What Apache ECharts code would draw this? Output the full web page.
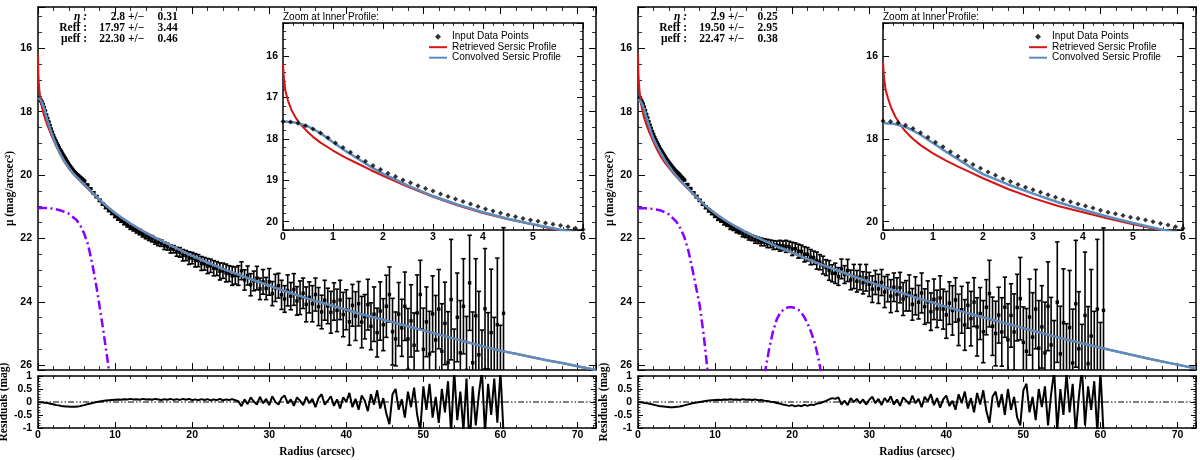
<!DOCTYPE html>
<html><head><meta charset="utf-8">
<script src="https://cdn.jsdelivr.net/npm/echarts@6/dist/echarts.min.js"></script>
<style>html,body{margin:0;padding:0;background:#fff}#c{width:1200px;height:460px}</style>
</head><body><div id="c"></div><script>
// ---------- data ----------
const radius = [0,0.15,0.3,0.45,0.6,0.75,0.9,1.05,1.2,1.35,1.5,1.65,1.8,1.95,2.1,2.25,2.4,2.55,2.7,2.85,3,3.15,3.3,3.45,3.6,3.75,3.9,4.05,4.2,4.35,4.5,4.65,4.8,4.95,5.1,5.25,5.4,5.55,5.7,5.85,6,
6.4,6.8,7.2,7.6,8,8.4,8.8,9.2,9.6,10,10.4,10.8,11.2,11.6,12,12.4,12.8,13.2,13.6,14,14.4,14.8,15.2,15.6,16,16.4,16.8,17.2,17.6,18,
18.4,18.8,19.2,19.6,20,20.4,20.8,21.2,21.6,22,22.4,22.8,23.2,23.6,24,24.4,24.8,25.2,25.6,26,26.4,26.8,27.2,27.6,28,28.4,28.8,29.2,29.6,30,
30.4,30.8,31.2,31.6,32,32.4,32.8,33.2,33.6,34,34.4,34.8,35.2,35.6,36,36.4,36.8,37.2,37.6,38,38.4,38.8,39.2,39.6,40,40.4,40.8,41.2,41.6,42,
42.4,42.8,43.2,43.6,44,44.4,44.8,45.2,45.6,46,46.4,46.8,47.2,47.6,48,48.4,48.8,49.2,49.6,50,50.4,50.8,51.2,51.6,52,52.4,52.8,53.2,53.6,54,
54.4,54.8,55.2,55.6,56,56.4,56.8,57.2,57.6,58,58.4,58.8,59.2,59.6,60,60.4];

const muLeft = [17.58,17.59,17.62,17.68,17.76,17.86,17.97,18.10,18.21,18.32,18.43,18.54,18.64,18.74,18.83,18.91,18.99,19.06,19.13,19.20,19.26,19.33,19.39,19.45,19.51,19.57,19.63,19.69,19.74,19.79,19.84,19.88,19.92,19.96,19.99,20.03,20.06,20.09,20.12,20.16,20.19,
20.31,20.43,20.56,20.68,20.80,20.91,21.02,21.11,21.20,21.29,
21.37,21.43,21.51,21.57,21.65,21.69,21.76,21.80,21.88,21.92,
21.98,22.01,22.09,22.12,22.15,22.23,22.26,22.33,22.34,22.42,
22.44,22.53,22.54,22.62,22.62,22.69,22.70,22.79,22.80,22.87,
22.86,22.94,22.95,23.04,23.02,23.09,23.11,23.18,23.17,23.17,
23.02,23.31,23.17,23.46,23.34,23.25,23.59,23.37,23.58,23.37,
23.74,23.56,23.49,23.78,23.91,23.64,23.82,23.61,23.97,23.87,
23.73,24.08,23.86,24.06,23.77,24.15,24.32,23.95,24.13,24.33,
23.99,24.27,23.94,24.40,24.25,24.63,24.11,24.45,24.06,24.64,
24.47,24.09,24.77,24.39,24.97,24.29,24.72,24.14,23.77,24.94,
25.17,24.39,24.82,24.14,25.17,24.60,25.37,24.35,23.77,25.50,
24.63,25.65,24.38,25.20,24.23,25.56,24.68,25.91,23.93,26.36,
24.49,25.61,24.14,26.16,23.40,25.92,24.44,25.67,26.59,24.22,
26.14,24.97,26.39,24.72,26.74,24.36];

const errLeft = [0.01,0.01,0.01,0.01,0.01,0.01,0.01,0.01,0.01,0.01,0.01,0.01,0.01,0.01,0.01,0.01,0.01,0.01,0.01,0.01,0.012,0.012,0.012,0.012,0.012,0.013,0.013,0.013,0.013,0.013,0.014,0.014,0.014,0.014,0.015,0.015,0.015,0.016,0.016,0.017,0.018,
0.02,0.025,0.03,0.03,0.035,0.035,0.04,0.045,0.045,0.05,
0.055,0.06,0.06,0.07,0.065,0.075,0.07,0.085,0.075,0.09,
0.085,0.1,0.09,0.11,0.1,0.12,0.105,0.13,0.115,0.14,
0.15,0.18,0.16,0.2,0.18,0.21,0.19,0.22,0.2,0.24,
0.21,0.24,0.22,0.27,0.24,0.28,0.25,0.3,0.27,0.31,
0.28,0.32,0.3,0.35,0.31,0.37,0.34,0.39,0.35,0.42,
0.38,0.43,0.39,0.46,0.42,0.49,0.43,0.5,0.45,0.53,
0.48,0.55,0.49,0.57,0.52,0.6,0.53,0.63,0.56,0.66,
0.59,0.67,0.62,0.7,0.63,0.74,0.66,0.77,0.7,0.81,
0.7,0.8,0.74,0.86,0.77,0.92,0.82,0.98,0.87,1.05,
0.85,1.0,0.9,1.08,0.96,1.14,1.02,1.2,1.08,1.3,
1.1,1.35,1.2,1.4,1.25,1.5,1.3,1.6,1.9,1.5,
1.4,1.65,1.5,1.7,1.5,1.6,1.8,2.0,1.7,1.9,
1.8,2.0,1.9,2.1,2.0,2.7];

const resLeft = [-0.01,-0.01,-0.01,-0.02,-0.02,-0.02,-0.03,-0.03,-0.04,-0.05,-0.06,-0.07,-0.08,-0.09,-0.1,-0.11,-0.12,-0.13,-0.13,-0.14,-0.15,-0.15,-0.16,-0.16,-0.17,-0.17,-0.17,-0.18,-0.18,-0.18,-0.18,-0.18,-0.18,-0.17,-0.17,-0.16,-0.16,-0.15,-0.14,-0.13,-0.12,
-0.09,-0.06,-0.03,0.0,0.02,0.04,0.06,0.07,0.08,0.09,
0.1,0.09,0.11,0.1,0.12,0.1,0.11,0.09,0.12,0.1,
0.11,0.09,0.12,0.1,0.08,0.11,0.09,0.12,0.08,0.11,
0.08,0.12,0.09,0.12,0.07,0.1,0.07,0.11,0.08,0.11,
0.06,0.1,0.07,0.12,0.06,0.1,0.08,0.11,0.07,0.03,
-0.16,0.1,-0.08,0.18,0.02,-0.1,0.2,-0.05,0.12,-0.12,
0.22,0.0,-0.1,0.15,0.25,-0.05,0.1,-0.15,0.18,0.05,
-0.12,0.2,-0.05,0.12,-0.2,0.15,0.3,-0.1,0.05,0.22,
-0.15,0.1,-0.25,0.18,0.0,0.35,-0.2,0.12,-0.3,0.25,
0.05,-0.35,0.3,-0.1,0.45,-0.25,0.15,-0.45,-0.85,0.3,
0.5,-0.3,0.1,-0.6,0.4,-0.2,0.55,-0.5,-1.1,0.6,
-0.3,0.7,-0.6,0.2,-0.8,0.5,-0.4,0.8,-1.2,1.2,
-0.7,0.4,-1.1,0.9,-1.9,0.6,-0.9,0.3,1.2,-1.2,
0.7,-0.5,0.9,-0.8,1.2,-1.2];

const muRight = [17.57,17.58,17.61,17.67,17.75,17.85,17.96,18.08,18.19,18.31,18.42,18.52,18.62,18.71,18.80,18.88,18.96,19.03,19.10,19.17,19.23,19.29,19.35,19.41,19.47,19.52,19.57,19.62,19.67,19.72,19.77,19.81,19.85,19.89,19.92,19.96,20.00,20.04,20.08,20.12,20.16,
20.30,20.43,20.56,20.68,20.80,20.91,21.02,21.12,21.20,21.29,
21.37,21.43,21.51,21.56,21.64,21.68,21.74,21.78,21.86,21.89,
21.95,21.98,22.04,22.06,22.11,22.12,22.16,22.17,22.21,22.21,
22.23,22.23,22.25,22.26,22.33,22.32,22.40,22.41,22.50,22.50,
22.59,22.61,22.70,22.75,22.84,22.92,23.01,23.10,23.10,23.20,
22.96,23.14,23.01,23.31,23.20,23.35,23.22,23.40,23.24,23.45,
23.60,23.39,23.59,23.39,23.69,23.57,23.82,23.54,23.77,23.55,
23.91,23.81,23.72,24.08,23.81,24.01,23.72,24.15,24.00,24.31,
23.92,24.22,23.88,24.23,24.41,24.04,24.27,23.94,24.57,24.25,
24.73,24.11,24.53,24.01,24.79,24.37,24.94,24.17,23.74,24.77,
25.00,24.42,24.95,24.17,25.20,24.43,24.95,24.18,23.90,25.28,
25.56,24.48,25.11,24.23,25.46,24.79,25.61,24.14,25.36,26.29,
24.01,25.64,24.66,26.29,24.81,25.93,24.06,25.48,26.61,24.43,
25.95,25.08,26.20,24.23,26.65,24.27];

const errRight = [0.01,0.01,0.01,0.01,0.01,0.01,0.01,0.01,0.01,0.01,0.01,0.01,0.01,0.01,0.01,0.01,0.01,0.01,0.01,0.01,0.012,0.012,0.012,0.012,0.012,0.013,0.013,0.013,0.013,0.013,0.014,0.014,0.014,0.014,0.015,0.015,0.015,0.016,0.016,0.017,0.018,
0.025,0.03,0.025,0.035,0.03,0.04,0.04,0.045,0.05,0.045,
0.06,0.055,0.065,0.06,0.075,0.07,0.08,0.075,0.09,0.085,
0.1,0.09,0.11,0.1,0.12,0.11,0.13,0.12,0.14,0.13,
0.17,0.15,0.19,0.17,0.21,0.18,0.22,0.2,0.24,0.21,
0.24,0.21,0.27,0.24,0.28,0.25,0.31,0.27,0.32,0.28,
0.31,0.28,0.35,0.31,0.38,0.34,0.4,0.35,0.42,0.38,
0.42,0.38,0.46,0.41,0.49,0.43,0.52,0.45,0.53,0.48,
0.52,0.48,0.57,0.5,0.6,0.53,0.63,0.56,0.66,0.59,
0.64,0.59,0.7,0.63,0.74,0.67,0.78,0.7,0.81,0.74,
0.8,0.72,0.86,0.77,0.92,0.82,0.98,0.87,1.05,0.92,
1.02,0.88,1.08,0.95,1.14,1.0,1.2,1.05,1.3,1.12,
1.35,1.2,1.4,1.25,1.5,1.3,1.6,1.4,1.5,1.7,
1.9,1.5,1.7,1.6,1.8,1.7,2.0,1.8,1.9,2.0,
1.8,2.1,1.9,2.2,2.0,2.6];

const resRight = [0,-0.01,-0.01,-0.02,-0.02,-0.03,-0.04,-0.04,-0.05,-0.06,-0.07,-0.08,-0.09,-0.1,-0.11,-0.12,-0.13,-0.14,-0.15,-0.15,-0.16,-0.17,-0.17,-0.18,-0.18,-0.19,-0.19,-0.19,-0.2,-0.2,-0.2,-0.2,-0.19,-0.19,-0.18,-0.18,-0.17,-0.16,-0.15,-0.14,-0.13,
-0.1,-0.07,-0.04,-0.02,0.0,0.02,0.04,0.06,0.07,0.08,
0.09,0.08,0.1,0.09,0.11,0.09,0.1,0.08,0.11,0.09,
0.1,0.08,0.1,0.07,0.08,0.05,0.04,0.01,0.0,-0.04,
-0.06,-0.1,-0.12,-0.15,-0.12,-0.17,-0.13,-0.16,-0.11,-0.15,
-0.1,-0.12,-0.06,-0.05,0.0,0.04,0.1,0.15,0.12,0.18,
-0.1,0.05,-0.12,0.15,0.0,0.12,-0.05,0.1,-0.1,0.08,
0.2,-0.05,0.12,-0.12,0.15,0.0,0.22,-0.1,0.1,-0.15,
0.18,0.05,-0.08,0.25,-0.05,0.12,-0.2,0.2,0.02,0.3,
-0.12,0.15,-0.22,0.1,0.25,-0.15,0.05,-0.3,0.3,-0.05,
0.4,-0.25,0.15,-0.4,0.35,-0.1,0.45,-0.35,-0.8,0.2,
0.4,-0.2,0.3,-0.5,0.5,-0.3,0.2,-0.6,-0.9,0.45,
0.7,-0.4,0.2,-0.7,0.5,-0.2,0.6,-0.9,0.3,1.2,
-1.1,0.5,-0.5,1.1,-0.4,0.7,-1.2,0.2,1.3,-0.9,
0.6,-0.3,0.8,-1.2,1.2,-1.2];

// model profiles
const curveR = [0,0.01,0.02,0.05,0.1,0.17,0.25,0.33,0.42,0.5,0.6,0.75,1,1.25,1.5,1.75,2,2.5,3,3.5,4,4.5,5,5.5,6,7,8,
9,10,11,12,13,14,15,16,17,18,19,20,22,24,26,28,30,32,34,36,38,40,42,44,46,48,50,52,54,56,58,60,62,64,66,68,70,72.4];
const blueLeft = [17.58,17.58,17.58,17.58,17.585,17.59,17.61,17.63,17.665,17.70,17.76,17.86,18.08,18.29,18.48,18.67,18.84,19.13,19.38,19.59,19.77,19.93,20.06,20.18,20.30,20.54,20.78,
21.00,21.20,21.37,21.53,21.68,21.82,21.95,22.07,22.19,22.31,22.43,22.55,22.76,22.96,23.14,23.32,23.49,23.66,23.82,23.97,24.11,24.25,24.39,24.52,24.64,24.77,24.90,25.03,25.16,25.29,25.42,25.54,25.64,25.74,25.84,25.93,26.03,26.15];
const redLeft = [16.18,16.40,16.55,16.85,17.08,17.30,17.48,17.62,17.74,17.84,17.95,18.09,18.28,18.45,18.60,18.75,18.89,19.16,19.40,19.61,19.79,19.94,20.07,20.20,20.32,20.56,20.79,
21.00,21.20,21.37,21.53,21.68,21.82,21.95,22.07,22.19,22.31,22.43,22.55,22.76,22.96,23.14,23.32,23.49,23.66,23.82,23.97,24.11,24.25,24.39,24.52,24.64,24.77,24.90,25.03,25.16,25.29,25.42,25.54,25.64,25.74,25.84,25.93,26.03,26.15];
const blueRight = [17.62,17.62,17.62,17.62,17.625,17.63,17.645,17.67,17.70,17.74,17.80,17.90,18.10,18.30,18.49,18.68,18.85,19.10,19.32,19.53,19.71,19.88,20.03,20.17,20.30,20.55,20.80,
21.02,21.21,21.38,21.53,21.67,21.80,21.92,22.03,22.14,22.25,22.35,22.45,22.65,22.84,23.02,23.20,23.37,23.54,23.70,23.86,24.01,24.16,24.30,24.44,24.57,24.70,24.83,24.96,25.09,25.21,25.33,25.45,25.56,25.67,25.78,25.88,25.98,26.10];
const redRight = [16.15,16.35,16.50,16.80,17.02,17.27,17.47,17.62,17.78,17.88,18.00,18.15,18.35,18.52,18.67,18.81,18.95,19.21,19.43,19.62,19.77,19.92,20.06,20.19,20.32,20.56,20.81,
21.02,21.21,21.38,21.53,21.67,21.80,21.92,22.03,22.14,22.25,22.35,22.45,22.65,22.84,23.02,23.20,23.37,23.54,23.70,23.86,24.01,24.16,24.30,24.44,24.57,24.70,24.83,24.96,25.09,25.21,25.33,25.45,25.56,25.67,25.78,25.88,25.98,26.10];

// point-source (PSF) components, dash-dotted
const psfR = [0,1,2,3,4,5,5.5,6,6.5,7,7.5,8,8.5,9,9.5];
const psfLeft = [21.04,21.04,21.06,21.12,21.22,21.42,21.6,21.85,22.2,22.75,23.4,24.15,24.95,25.8,26.7];
const psfRight = [21.05,21.05,21.07,21.12,21.24,21.48,21.68,21.95,22.35,22.9,23.5,24.1,25.0,26.1,27.0];
const bumpR = [16.4,16.8,17,17.5,18,18.5,19,19.5,20,20.5,21,21.5,22,22.5,23,23.5,23.8];
const bumpRight = [26.3,25.8,25.5,24.95,24.55,24.33,24.22,24.17,24.17,24.2,24.28,24.45,24.68,24.98,25.35,25.89,26.3];

const zeroR = [0, 72.4];
const zeroV = [0, 0];

const fitLeft = [['η :','2.8','0.31'],['Reff :','17.97','3.44'],['μeff :','22.30','0.46']];
const fitRight = [['η :','2.9','0.25'],['Reff :','19.50','2.95'],['μeff :','22.47','0.38']];
const legendNames = ['Input Data Points','Retrieved Sersic Profile','Convolved Sersic Profile'];
const insetTitle = 'Zoom at Inner Profile:';
const yName = 'μ (mag/arcsec²)', rName = 'Residuals (mag)', xName = 'Radius (arcsec)';

// ---------- styling ----------
const RED = '#d51414', BLUE = '#5b8dbd', PURPLE = '#8a00ff';
const SANS = 'Liberation Sans', SERIF = 'Liberation Serif';
const NAME = {fontFamily: SERIF, fontWeight: 'bold', fontSize: 11.5, color: '#000'};

const grids = [
  {left: 38, top: 7, width: 558, height: 363},
  {left: 38, top: 376, width: 558, height: 52},
  {left: 283, top: 23, width: 300, height: 207},
  {left: 638, top: 7, width: 558, height: 363},
  {left: 638, top: 376, width: 558, height: 52},
  {left: 883, top: 23, width: 300, height: 207}
].map(g => Object.assign({outerBoundsMode: 'none', containLabel: false}, g));

function axisCommon(gi, o) {
  return {
    type: 'value', gridIndex: gi, min: o.min, max: o.max,
    splitLine: {show: false}, minorSplitLine: {show: false},
    axisLine: {show: true, onZero: false, lineStyle: {color: '#000', width: 1.5}},
    axisTick: {show: true, inside: true, length: o.tl, lineStyle: {color: '#000', width: 1}},
    minorTick: {show: true, splitNumber: o.minor, length: o.ml, lineStyle: {color: '#000', width: 0.8}}
  };
}
function lab(o) {
  return o.label ? {show: true, margin: o.margin, color: '#000', fontFamily: SANS, fontWeight: 'bold', fontSize: 10.5,
    showMinLabel: o.showMin, showMaxLabel: o.showMax} : {show: false};
}
function xPair(gi, o) {
  const c = axisCommon(gi, o);
  if (o.interval) c.interval = o.interval;
  return [
    Object.assign({}, c, {position: 'bottom', axisLabel: lab(o), name: o.name || '', nameLocation: 'middle', nameGap: o.nameGap || 0, nameTextStyle: NAME}),
    Object.assign({}, c, {position: 'top', axisLabel: {show: false}})
  ];
}
function yPair(gi, o) {
  const c = axisCommon(gi, o);
  c.inverse = !!o.inverse;
  if (o.interval) c.interval = o.interval; else c.splitNumber = o.split;
  return [
    Object.assign({}, c, {position: 'left', axisLabel: lab(o), name: o.name || '', nameLocation: 'middle', nameGap: o.nameGap || 0, nameTextStyle: NAME}),
    Object.assign({}, c, {position: 'right', axisLabel: {show: false}})
  ];
}

const xAxis = [], yAxis = [];
for (let p = 0; p < 2; p++) {
  const g = p * 3;
  xAxis.push(...xPair(g, {min: 0, max: 72.4, interval: 10, tl: 7, minor: 5, ml: 4, label: false}));
  yAxis.push(...yPair(g, {min: 14.7, max: 26.15, split: 5, inverse: true, tl: 7, minor: 4, ml: 4, label: true, margin: 6, showMin: false, showMax: false, name: yName, nameGap: 21}));
  xAxis.push(...xPair(g + 1, {min: 0, max: 72.4, interval: 10, tl: 6, minor: 5, ml: 3, label: true, margin: 2, showMax: false, name: xName, nameGap: 18}));
  yAxis.push(...yPair(g + 1, {min: -1, max: 1, interval: 0.5, tl: 5, minor: 5, ml: 2.5, label: true, margin: 6, name: rName, nameGap: 24}));
  xAxis.push(...xPair(g + 2, {min: 0, max: 6, interval: 1, tl: 6, minor: 5, ml: 3, label: true, margin: 2}));
  yAxis.push(...yPair(g + 2, {min: 15.2, max: 20.2, split: p === 0 ? 5 : 3, inverse: true, tl: 6, minor: 5, ml: 3, label: true, margin: 5, showMin: false, showMax: false}));
}

function pairs(xs, ys) { return xs.map((x, i) => [x, ys[i]]); }
function triples(xs, ys, es) { return xs.map((x, i) => [x, ys[i], es[i]]); }

function errRender(params, api) {
  const x = api.value(0), y = api.value(1), e = api.value(2);
  const c = api.coord([x, y]);
  const a = api.coord([x, y - e]), b = api.coord([x, y + e]);
  const st = {stroke: '#000', lineWidth: 1.6};
  return {type: 'group', children: [
    {type: 'line', shape: {x1: c[0], y1: a[1], x2: c[0], y2: b[1]}, style: st},
    {type: 'line', shape: {x1: c[0] - 2.2, y1: a[1], x2: c[0] + 2.2, y2: a[1]}, style: st},
    {type: 'line', shape: {x1: c[0] - 2.2, y1: b[1], x2: c[0] + 2.2, y2: b[1]}, style: st},
    {type: 'rect', shape: {x: c[0] - 1.7, y: c[1] - 1.7, width: 3.4, height: 3.4}, style: {fill: '#000'}}
  ]};
}

const panels = [
  {mu: muLeft, err: errLeft, res: resLeft, red: redLeft, blue: blueLeft, psf: [[psfR, psfLeft]]},
  {mu: muRight, err: errRight, res: resRight, red: redRight, blue: blueRight, psf: [[psfR, psfRight], [bumpR, bumpRight]]}
];

const series = [];
panels.forEach((P, p) => {
  const gm = p * 3, gr = gm + 1, gi = gm + 2;
  const ax = g => ({xAxisIndex: 2 * g, yAxisIndex: 2 * g});
  P.psf.forEach((c, k) => series.push(Object.assign({type: 'line', name: 'psf' + p + k, data: pairs(c[0], c[1]), symbol: 'none', clip: true, z: 2,
    lineStyle: {color: PURPLE, width: 2.5, type: [9, 3.5, 2, 3.5]}}, ax(gm))));
  series.push(Object.assign({type: 'custom', name: 'data' + p, data: triples(radius, P.mu, P.err), renderItem: errRender, clip: true, z: 3,
    encode: {x: 0, y: 1}}, ax(gm)));
  series.push(Object.assign({type: 'line', name: 'red' + p, data: pairs(curveR, P.red), symbol: 'none', clip: true, z: 4,
    lineStyle: {color: RED, width: 2}}, ax(gm)));
  series.push(Object.assign({type: 'line', name: 'blue' + p, data: pairs(curveR, P.blue), symbol: 'none', clip: true, z: 5,
    lineStyle: {color: BLUE, width: 2.5}}, ax(gm)));
  // residuals
  series.push(Object.assign({type: 'line', name: 'zero' + p, data: pairs(zeroR, zeroV), symbol: 'none', z: 2,
    lineStyle: {color: '#000', width: 1, type: [6, 2, 1.5, 2, 1.5, 2]}}, ax(gr)));
  series.push(Object.assign({type: 'line', name: 'res' + p, data: pairs(radius, P.res), symbol: 'none', clip: true, z: 3,
    lineStyle: {color: '#000', width: 2}}, ax(gr)));
  // inset
  series.push(Object.assign({type: 'line', name: legendNames[1], data: pairs(curveR, P.red), symbol: 'none', clip: true, z: 4,
    lineStyle: {color: RED, width: 2}, itemStyle: {color: RED}}, ax(gi)));
  series.push(Object.assign({type: 'line', name: legendNames[2], data: pairs(curveR, P.blue), symbol: 'none', clip: true, z: 5,
    lineStyle: {color: BLUE, width: 2.5}, itemStyle: {color: BLUE}}, ax(gi)));
  series.push(Object.assign({type: 'scatter', name: legendNames[0], data: pairs(radius, P.mu), symbol: 'diamond', symbolSize: 5, clip: true, z: 6,
    itemStyle: {color: '#000'}}, ax(gi)));
});

const lineIcon = 'path://M0,0L9,0L9,1L0,1Z';
function mkLegend(left) {
  return {left: left, top: 31.7, orient: 'vertical', padding: 0, itemWidth: 18, itemHeight: 6, itemGap: 0.5, selectedMode: false,
    textStyle: {fontFamily: SANS, fontSize: 10, lineHeight: 10, color: '#000'},
    data: [
      {name: legendNames[0], icon: 'path://M0,-1L1,0L0,1L-1,0Z', itemStyle: {color: '#000', borderWidth: 0}},
      {name: legendNames[1], icon: lineIcon, itemStyle: {color: RED, borderWidth: 0}},
      {name: legendNames[2], icon: lineIcon, itemStyle: {color: BLUE, borderWidth: 0}}
    ]};
}

const graphic = [];
[[fitLeft, 0], [fitRight, 600]].forEach(([rows, dx]) => {
  rows.forEach((r, i) => {
    const y = 17.3 + i * 10.8;
    const f = 'bold 11.5px "Liberation Serif"';
    graphic.push({type: 'text', x: 87 + dx, y: y, style: {text: r[0], textAlign: 'right', textVerticalAlign: 'middle', font: (i === 0 ? 'italic ' : '') + f, fill: '#000'}});
    graphic.push({type: 'text', x: 125 + dx, y: y, style: {text: r[1], textAlign: 'right', textVerticalAlign: 'middle', font: f, fill: '#000'}});
    graphic.push({type: 'text', x: 128 + dx, y: y, style: {text: '+/−', textAlign: 'left', textVerticalAlign: 'middle', font: f, fill: '#000'}});
    graphic.push({type: 'text', x: 177.7 + dx, y: y, style: {text: r[2], textAlign: 'right', textVerticalAlign: 'middle', font: f, fill: '#000'}});
  });
  graphic.push({type: 'text', x: 283 + dx, y: 17, style: {text: insetTitle, textAlign: 'left', textVerticalAlign: 'middle', font: '10px "Liberation Sans"', fill: '#000'}});
});

const chart = echarts.init(document.getElementById('c'), null, {renderer: 'canvas'});
chart.setOption({
  animation: false,
  backgroundColor: '#fff',
  grid: grids,
  xAxis: xAxis,
  yAxis: yAxis,
  legend: [mkLegend(429), mkLegend(1029)],
  graphic: graphic,
  series: series
});
</script></body></html>
